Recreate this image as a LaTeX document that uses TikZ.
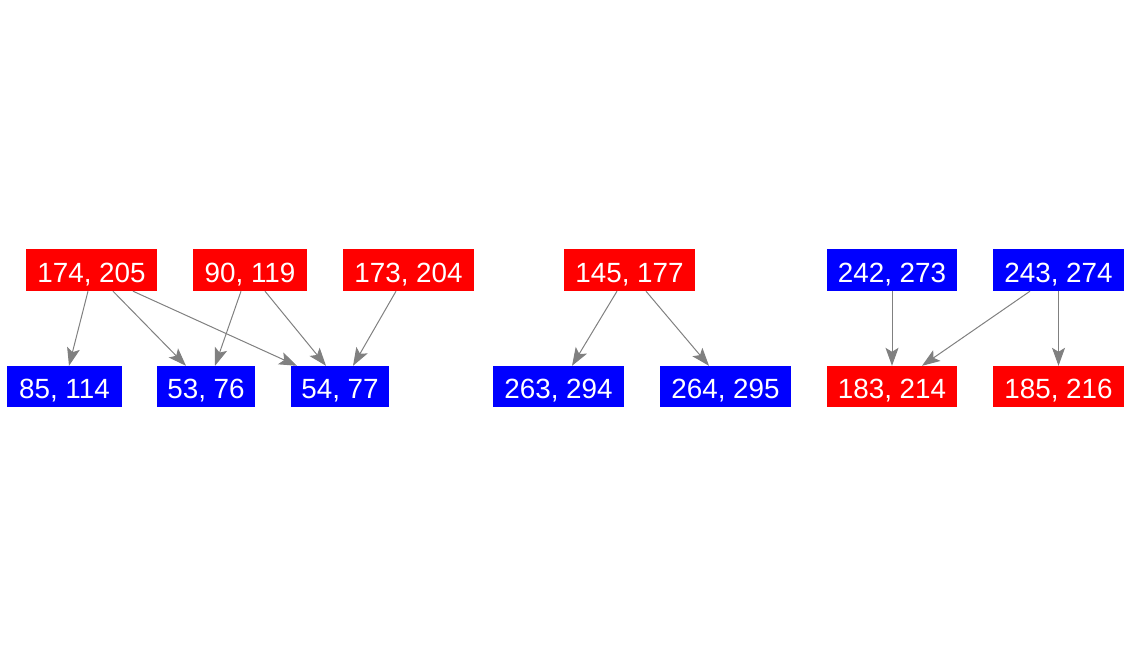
\documentclass[tikz,border=0pt]{standalone}
\usepackage{fontspec}
\setmainfont{Liberation Sans}
\usetikzlibrary{arrows.meta}
\definecolor{nred}{RGB}{255,0,0}
\definecolor{nblue}{RGB}{0,0,255}
\definecolor{edgegray}{RGB}{128,128,128}
\begin{document}
\begin{tikzpicture}[x=1pt,y=-1pt,
  box/.style={inner sep=0pt, minimum height=42pt, text=white,
    text height=24pt, text depth=0pt,
    font=\fontsize{27.8}{33}\selectfont, anchor=center},
  rbox/.style={box, fill=nred},
  bbox/.style={box, fill=nblue},
  conn/.style={draw=edgegray, line width=1pt, -{Stealth[length=18pt,width=13pt,inset=4pt]}}]
\useasboundingbox (0,0) rectangle (1131,656);
% top row
\node[rbox, minimum width=131pt] (n174) at (91.5,270) {174, 205};
\node[rbox, minimum width=114pt] (n90) at (250,270) {90, 119};
\node[rbox, minimum width=131pt] (n173) at (408.5,270) {173, 204};
\node[rbox, minimum width=131pt] (n145) at (629.5,270) {145, 177};
\node[bbox, minimum width=130pt] (n242) at (892,270) {242, 273};
\node[bbox, minimum width=131pt] (n243) at (1058.5,270) {243, 274};
% bottom row
\node[bbox, minimum width=115pt, minimum height=41pt] (n85) at (64.5,386.5) {85, 114};
\node[bbox, minimum width=98pt, minimum height=41pt] (n53) at (206,386.5) {53, 76};
\node[bbox, minimum width=98pt, minimum height=41pt] (n54) at (340,386.5) {54, 77};
\node[bbox, minimum width=131pt, minimum height=41pt] (n263) at (558.5,386.5) {263, 294};
\node[bbox, minimum width=131pt, minimum height=41pt] (n264) at (725.5,386.5) {264, 295};
\node[rbox, minimum width=130pt, minimum height=41pt] (n183) at (892,386.5) {183, 214};
\node[rbox, minimum width=131pt, minimum height=41pt] (n185) at (1058.5,386.5) {185, 216};
% edges
\draw[conn] ([xshift=-3.5pt]n174.south) -- ([xshift=4.5pt]n85.north);
\draw[conn] ([xshift=21.5pt]n174.south) -- ([xshift=-20pt]n53.north);
\draw[conn] ([xshift=41.5pt]n174.south) -- ([xshift=-43pt]n54.north);
\draw[conn] ([xshift=-9pt]n90.south) -- ([xshift=9pt]n53.north);
\draw[conn] ([xshift=15pt]n90.south) -- ([xshift=-14pt]n54.north);
\draw[conn] ([xshift=-12.5pt]n173.south) -- ([xshift=13pt]n54.north);
\draw[conn] ([xshift=-12.5pt]n145.south) -- ([xshift=13.5pt]n263.north);
\draw[conn] ([xshift=16.5pt]n145.south) -- ([xshift=-16.5pt]n264.north);
\draw[conn] (n242.south) -- (n183.north);
\draw[conn] ([xshift=-28.5pt]n243.south) -- ([xshift=30pt]n183.north);
\draw[conn] (n243.south) -- (n185.north);
\end{tikzpicture}
\end{document}
